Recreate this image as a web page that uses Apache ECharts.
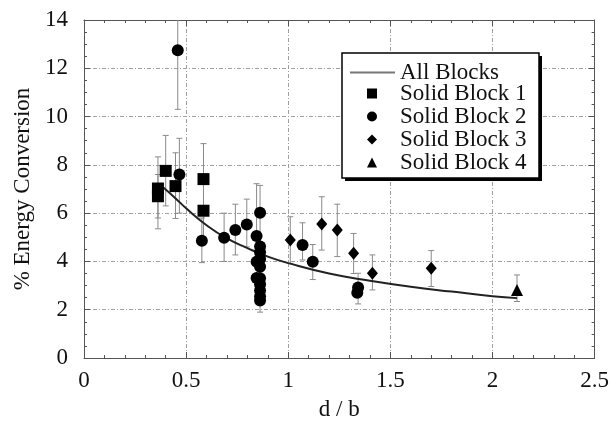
<!DOCTYPE html>
<html>
<head>
<meta charset="utf-8">
<script src="https://cdn.jsdelivr.net/npm/echarts@6/dist/echarts.min.js"></script>
<style>
  html, body { margin: 0; padding: 0; background: #fff; }
  #chart { width: 612px; height: 428px; }
</style>
</head>
<body>
<div id="chart"></div>
<script>
// Fitted trend through all blocks [d/b, %]
var allBlocksCurve = [
  [0.39, 7.05], [0.45, 6.6], [0.5, 6.2], [0.6, 5.5], [0.7, 4.95], [0.8, 4.55],
  [0.9, 4.2], [1.0, 3.93], [1.2, 3.5], [1.4, 3.2], [1.6, 2.95], [1.8, 2.75],
  [2.0, 2.56], [2.12, 2.48]
];

// Measurements per block: [d/b, % energy conversion]
var solidBlock1 = [[0.362, 7.02], [0.362, 6.7], [0.400, 7.75], [0.448, 7.12], [0.585, 7.41], [0.585, 6.10]];
var solidBlock2 = [
  [0.459, 12.75], [0.467, 7.6], [0.577, 4.86], [0.686, 4.98], [0.741, 5.3], [0.797, 5.53],
  [0.845, 5.05], [0.862, 6.02], [0.862, 4.62], [0.862, 4.38], [0.862, 4.1], [0.845, 3.99],
  [0.862, 3.78], [0.845, 3.31], [0.862, 3.3], [0.862, 3.05], [0.862, 2.8], [0.862, 2.55],
  [0.862, 2.38], [1.07, 4.68], [1.12, 3.99], [1.342, 2.92], [1.338, 2.7]
];
var solidBlock3 = [[1.01, 4.89], [1.164, 5.55], [1.24, 5.3], [1.32, 4.34], [1.412, 3.51], [1.70, 3.72]];
var solidBlock4 = [[2.12, 2.82]];

// Uncertainty ranges: [d/b, low, high]
var block1Err = [[0.362, 5.35, 8.33], [0.362, 5.8, 7.6], [0.400, 6.3, 9.22], [0.448, 5.78, 8.5], [0.585, 5.9, 8.88], [0.585, 4.9, 7.3]];
var block2Err = [
  [0.459, 10.3, 15.2], [0.467, 6.0, 9.1], [0.577, 3.95, 5.8], [0.686, 4.0, 6.0], [0.741, 4.27, 6.37],
  [0.797, 4.6, 6.58], [0.845, 3.9, 7.22], [0.862, 1.9, 7.15], [1.07, 4.06, 5.6], [1.12, 3.25, 4.7],
  [1.342, 2.24, 3.51]
];
var block3Err = [[1.01, 3.92, 5.85], [1.164, 4.47, 6.68], [1.24, 4.2, 6.37], [1.32, 3.5, 5.16], [1.412, 2.82, 4.27], [1.70, 2.96, 4.45]];
var block4Err = [[2.12, 2.34, 3.44]];

var seriesNames = ['All Blocks', 'Solid Block 1', 'Solid Block 2', 'Solid Block 3', 'Solid Block 4'];

var FONT = 'Liberation Serif';
var FS = 23;
var gridLine = { show: true, lineStyle: { color: '#a0a0a0', width: 1, type: [4, 2, 1, 2] } };

function errorBars(data) {
  return {
    type: 'custom',
    clip: true,
    z: 1,
    silent: true,
    data: data,
    encode: { x: 0, y: [1, 2] },
    renderItem: function (params, api) {
      var x = api.value(0);
      var lo = api.coord([x, api.value(1)]);
      var hi = api.coord([x, api.value(2)]);
      var cap = 3;
      var st = { stroke: '#8a8a8a', lineWidth: 1 };
      return {
        type: 'group',
        children: [
          { type: 'line', shape: { x1: lo[0], y1: lo[1], x2: hi[0], y2: hi[1] }, style: st },
          { type: 'line', shape: { x1: lo[0] - cap, y1: lo[1], x2: lo[0] + cap, y2: lo[1] }, style: st },
          { type: 'line', shape: { x1: hi[0] - cap, y1: hi[1], x2: hi[0] + cap, y2: hi[1] }, style: st }
        ]
      };
    }
  };
}

function scatter(name, data, symbol, size) {
  return {
    name: name,
    type: 'scatter',
    z: 3,
    symbol: symbol,
    symbolSize: size,
    itemStyle: { color: '#000', opacity: 1 },
    data: data
  };
}

var axisLine = { show: true, onZero: false, lineStyle: { color: '#555', width: 1 } };
var axisTick = { show: true, inside: true, length: 6, lineStyle: { color: '#555' } };
function minor(n) { return { show: true, splitNumber: n, length: 3, lineStyle: { color: '#555' } }; }

var legendText = { fontFamily: FONT, fontSize: FS, color: '#111', lineHeight: 21.5 };

var chart = echarts.init(document.getElementById('chart'), null, { renderer: 'canvas' });
chart.setOption({
  animation: false,
  backgroundColor: '#fff',
  textStyle: { fontFamily: FONT },
  grid: { left: 84, right: 16, top: 20, bottom: 70, containLabel: false },
  xAxis: [
    {
      type: 'value', position: 'bottom', min: 0, max: 2.5, interval: 0.5,
      axisLine: axisLine, axisTick: axisTick, minorTick: minor(5),
      axisLabel: { fontFamily: FONT, fontSize: FS, color: '#111', margin: 11 },
      splitLine: gridLine,
      name: 'd / b', nameLocation: 'middle', nameGap: 40,
      nameTextStyle: { fontFamily: FONT, fontSize: FS, color: '#111' }
    },
    {
      type: 'value', position: 'top', min: 0, max: 2.5, interval: 0.5,
      axisLine: axisLine, axisTick: axisTick, minorTick: minor(5),
      axisLabel: { show: false }, splitLine: { show: false }
    }
  ],
  yAxis: [
    {
      type: 'value', position: 'left', min: 0, max: 14, interval: 2,
      axisLine: axisLine, axisTick: axisTick, minorTick: minor(4),
      axisLabel: { fontFamily: FONT, fontSize: FS, color: '#111', margin: 16 },
      splitLine: gridLine,
      name: '% Energy Conversion', nameLocation: 'middle', nameGap: 37,
      nameTextStyle: { fontFamily: FONT, fontSize: FS, color: '#111' }
    },
    {
      type: 'value', position: 'right', min: 0, max: 14, interval: 2,
      axisLine: axisLine, axisTick: axisTick, minorTick: minor(4),
      axisLabel: { show: false }, splitLine: { show: false }
    }
  ],
  // legend frame with a hard drop shadow
  graphic: [
    { type: 'rect', z: 5, shape: { x: 345, y: 56, width: 197, height: 125 }, style: { fill: '#000' } },
    { type: 'rect', z: 6, shape: { x: 342, y: 53, width: 197, height: 125 }, style: { fill: '#fff', stroke: '#000', lineWidth: 1.5 } }
  ],
  legend: [
    {
      z: 10, orient: 'vertical', left: 350, top: 61, padding: 0, itemGap: 0,
      itemWidth: 45, itemHeight: 2,
      textStyle: legendText,
      data: [{ name: seriesNames[0], icon: 'rect', itemStyle: { color: '#777' } }]
    },
    {
      z: 10, orient: 'vertical', left: 367, top: 82, padding: 0, itemGap: 0,
      itemWidth: 10, itemHeight: 10,
      textStyle: Object.assign({ padding: [0, 0, 0, 18] }, legendText),
      data: [
        { name: seriesNames[1], icon: 'rect' },
        { name: seriesNames[2], icon: 'circle' },
        { name: seriesNames[3], icon: 'diamond' },
        { name: seriesNames[4], icon: 'triangle' }
      ]
    }
  ],
  series: [
    errorBars(block1Err),
    errorBars(block2Err),
    errorBars(block3Err),
    errorBars(block4Err),
    {
      name: seriesNames[0], type: 'line', smooth: true, z: 2,
      symbol: 'none', showSymbol: false,
      lineStyle: { color: '#222', width: 2 },
      itemStyle: { color: '#222' },
      data: allBlocksCurve
    },
    scatter(seriesNames[1], solidBlock1, 'rect', 12),
    scatter(seriesNames[2], solidBlock2, 'circle', 12),
    scatter(seriesNames[3], solidBlock3, 'diamond', [11, 13]),
    scatter(seriesNames[4], solidBlock4, 'triangle', 12)
  ]
});
</script>
</body>
</html>
